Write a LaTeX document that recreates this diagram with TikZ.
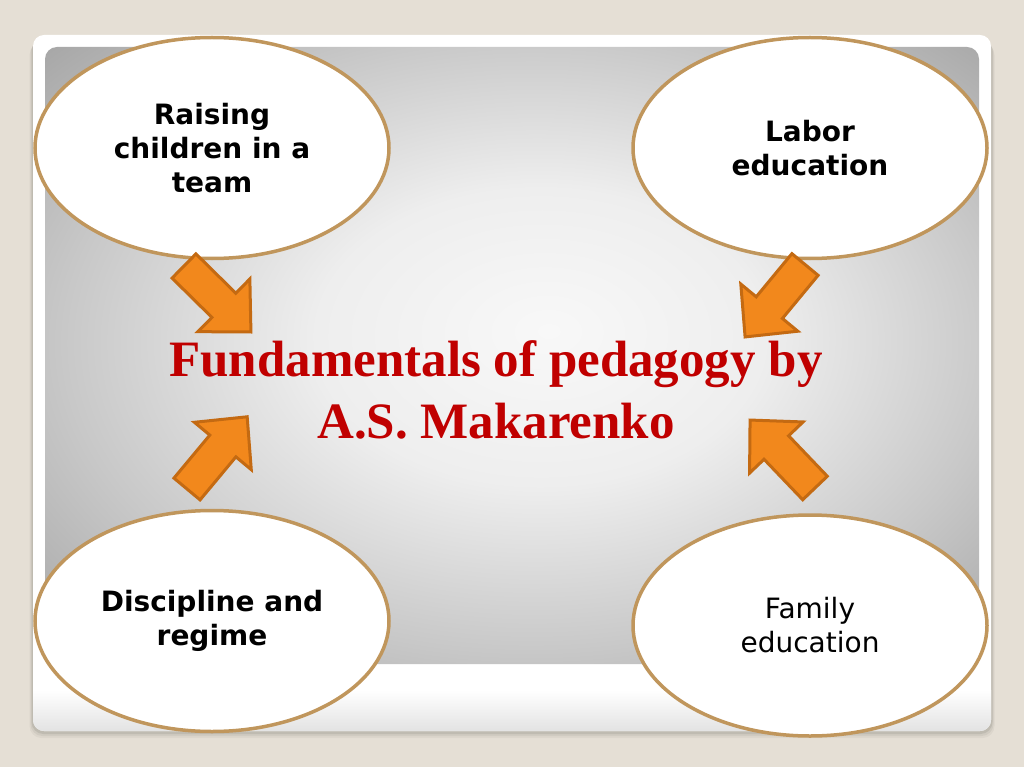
\documentclass[tikz,border=0pt]{standalone}
\usepackage{fontspec}
\newfontfamily\dv{DejaVu Sans}
\newfontfamily\lser{Liberation Serif}
\usetikzlibrary{shapes.geometric}
\definecolor{bgc}{RGB}{229,223,213}
\definecolor{ringc}{RGB}{192,150,92}
\definecolor{arrfill}{RGB}{242,136,28}
\definecolor{arrline}{RGB}{196,106,18}
\definecolor{titlec}{RGB}{192,0,0}
\definecolor{g0}{RGB}{248,248,248}
\definecolor{g1}{RGB}{238,238,238}
\definecolor{g2}{RGB}{200,200,200}
\definecolor{g3}{RGB}{168,168,168}
\definecolor{g4}{RGB}{160,160,160}
\pgfdeclareradialshading{panelshade}{\pgfpoint{2bp}{2bp}}{color(0bp)=(g0); color(12bp)=(g1); color(25bp)=(g2); color(35bp)=(g3); color(50bp)=(g4)}
\begin{document}
\begin{tikzpicture}[x=1pt,y=-1pt,
  ring/.style={ellipse, draw=ringc, line width=3.5pt, fill=white,
    minimum width=354pt, minimum height=221pt, inner sep=0pt, align=center,
    font=\dv\bfseries\fontsize{28}{34}\selectfont},
  blockarrow/.pic={\draw[fill=arrfill, draw=arrline, line width=3pt, line join=miter]
    (0,-17) -- (56,-17) -- (56,-37) -- (94,0) -- (56,37) -- (56,17) -- (0,17) -- cycle;},
  titletext/.style={font=\lser\bfseries\fontsize{51}{62}\selectfont, align=center}]
\fill[bgc] (0,0) rectangle (1024,767);
\useasboundingbox (0,0) rectangle (1024,767);
% card shadow
\foreach \i/\o in {7/0.04,5/0.05,3/0.08}
  \fill[black, opacity=\o, rounded corners=12pt] (33-\i/2,36+\i) rectangle (991+\i/2,731+\i);
% card
\fill[white, rounded corners=11pt] (33,35) rectangle (991,731);
\begin{scope}
  \clip[rounded corners=11pt] (33,35) rectangle (991,731);
  \shade[top color=white, bottom color=gray!22] (33,690) rectangle (991,731);
\end{scope}
% panel
\shade[shading=panelshade, rounded corners=12pt] (45,47) rectangle (979,664);
% ellipses
\node[ring] (tl) at (212,148) {Raising\\children in a\\team};
\node[ring] (tr) at (810,148) {Labor\\education};
\node[ring] (bl) at (212,621) {Discipline and\\regime};
\node[ring, font=\dv\fontsize{28}{34}\selectfont] (br) at (810,625.5) {Family\\education};
% arrows
\pic[rotate=-44.6] (arTL) at (184,266) {blockarrow};
\pic[rotate=-129.6] (arTR) at (805,264.5) {blockarrow};
\pic[rotate=50.2] (arBL) at (187,489) {blockarrow};
\pic[rotate=133.7] (arBR) at (815,488) {blockarrow};
% title
\node[titletext, text=titlec] (title) at (496,390) {Fundamentals of pedagogy by\\A.S. Makarenko};
\end{tikzpicture}
\end{document}
